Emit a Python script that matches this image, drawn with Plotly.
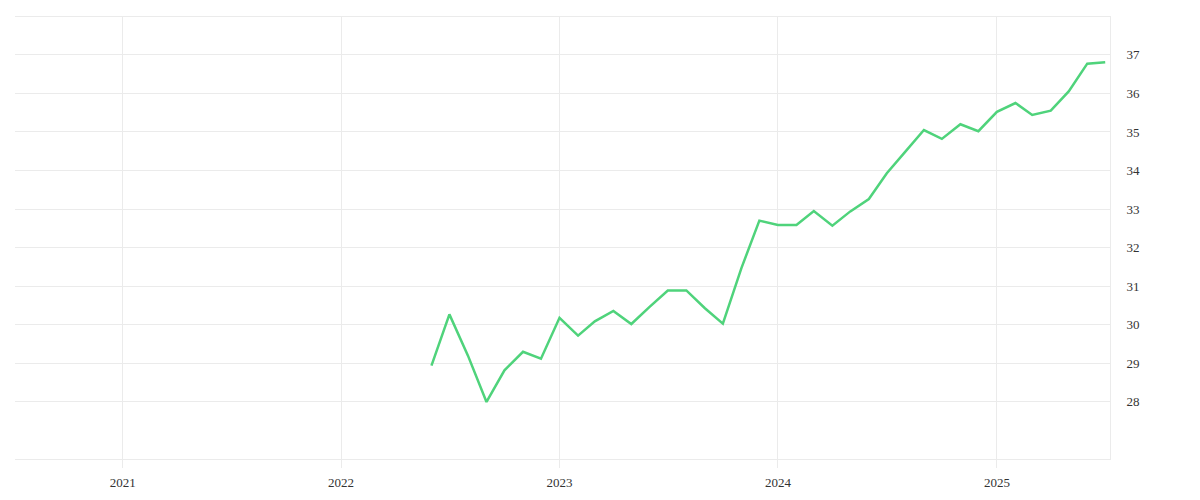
import pandas as pd
import plotly.graph_objects as go

# monthly values, Jun 2022 .. Jul 2025
months = pd.date_range("2022-06-01", "2025-07-01", freq="MS")
values = [
    28.94, 30.27, 29.20, 28.00, 28.82, 29.30, 29.12,              # 2022
    30.18, 29.72, 30.09, 30.36, 30.02, 30.47, 30.89, 30.89,       # 2023
    30.43, 30.03, 31.47, 32.70,
    32.59, 32.59, 32.95, 32.57, 32.94, 33.26, 33.93, 34.49,       # 2024
    35.05, 34.82, 35.20, 35.02,
    35.52, 35.75, 35.44, 35.55, 36.05, 36.77, 36.81,              # 2025
]
year_ticks = ["2021-01-01", "2022-01-01", "2023-01-01", "2024-01-01", "2025-01-01"]
year_labels = ["2021", "2022", "2023", "2024", "2025"]
y_ticks = list(range(28, 38))

grid = "#ebebeb"
font = dict(family="Liberation Serif", size=13, color="#333333")

fig = go.Figure()
fig.add_trace(go.Scatter(
    x=months, y=values, mode="lines",
    line=dict(color="#4fd37b", width=2.5),
    hoverinfo="x+y",
))

fig.update_xaxes(
    range=["2020-07-05", "2025-07-09"],
    tickvals=year_ticks, ticktext=year_labels,
    showgrid=True, gridcolor=grid, gridwidth=1,
    showline=True, linecolor=grid, linewidth=1, mirror=True,
    ticks="outside", ticklen=8, tickcolor=grid,
    ticklabelstandoff=3,
    zeroline=False, tickfont=font,
)
fig.update_yaxes(
    range=[26.52, 37.98],
    tickvals=y_ticks,
    side="right",
    showgrid=True, gridcolor=grid, gridwidth=1,
    showline=True, linecolor=grid, linewidth=1,
    ticks="", ticklabelstandoff=13,
    zeroline=False, tickfont=font,
)
# page body adds ~8px offset, margins compensate
fig.update_layout(
    width=1200, height=500,
    margin=dict(l=7, r=98, t=9, b=49),
    plot_bgcolor="white", paper_bgcolor="white",
    showlegend=False,
)

fig.write_html("out.html")
